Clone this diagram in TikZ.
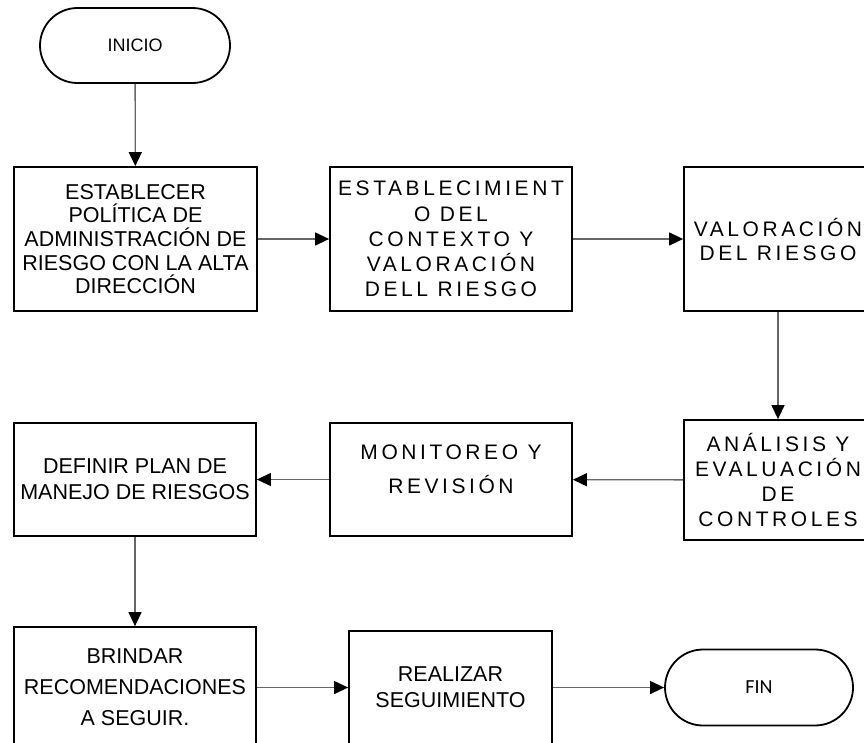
\documentclass[tikz,border=0pt]{standalone}
\usepackage{fontspec}
\setmainfont{Liberation Sans}
\newfontfamily\trk{Liberation Sans}[LetterSpace=17]
\newfontfamily\calfont{Carlito}
\usetikzlibrary{arrows.meta,shapes.misc}
\begin{document}
\begin{tikzpicture}[x=1pt,y=-1pt,
  box/.style={draw=black, line width=1.8pt, rectangle, align=center, inner sep=0pt, text=black},
  term/.style={draw=black, line width=1.8pt, rounded rectangle, inner sep=0pt, text=black},
  conn/.style={draw=black!60, line width=1.3pt, -{Triangle[length=14pt,width=13pt,color=black]}},
  plainA/.style={font=\fontsize{21.5}{23.7}\selectfont},
  plainB/.style={font=\fontsize{21.5}{26}\selectfont},
  plainC/.style={font=\fontsize{21.5}{31}\selectfont},
  trkA/.style={font=\trk\fontsize{21}{25.2}\selectfont},
  trkB/.style={font=\trk\fontsize{21}{24}\selectfont},
  trkC/.style={font=\trk\fontsize{21}{34}\selectfont}
]
\clip (0,0) rectangle (864,742);
\fill[white] (0,0) rectangle (864,742);

\node[term, minimum width=190pt, minimum height=75pt, font=\fontsize{18}{20}\selectfont] (ini) at (135,45.5) {INICIO};

\node[box, plainA, minimum width=243pt, minimum height=144pt] (b1) at (135.5,239)
  {ESTABLECER\\POLÍTICA DE\\ADMINISTRACIÓN DE\\RIESGO CON LA ALTA\\DIRECCIÓN};
\node[box, trkA, minimum width=242pt, minimum height=144pt] (b2) at (451,239)
  {ESTABLECIMIENT\\O DEL\\CONTEXTO Y\\VALORACIÓN\\DELL RIESGO};
\node[box, trkB, minimum width=188pt, minimum height=144pt] (b3) at (778,239)
  {VALORACIÓN\\DEL RIESGO};
\node[box, trkA, minimum width=188pt, minimum height=120pt] (b4) at (778,480)
  {ANÁLISIS Y\\EVALUACIÓN\\DE\\CONTROLES};
\node[box, minimum width=242pt, minimum height=113pt,
  label={[name=b5t, trkC, align=center, yshift=10pt]center:MONITOREO Y\\REVISIÓN}] (b5) at (451,479.5) {};
\node[box, plainB, minimum width=242pt, minimum height=113pt] (b6) at (135,479.5)
  {DEFINIR PLAN DE\\MANEJO DE RIESGOS};
\node[box, plainC, minimum width=242pt, minimum height=121pt] (b7) at (135,687.5)
  {BRINDAR\\RECOMENDACIONES\\A SEGUIR.};
\node[box, plainB, minimum width=203pt, minimum height=113pt] (b8) at (450.5,687.5)
  {REALIZAR\\SEGUIMIENTO};
\node[term, minimum width=188pt, minimum height=76pt, font=\calfont\fontsize{20}{22}\selectfont] (fin) at (759,687.5) {FIN};

\draw[conn] (ini) -- (b1);
\draw[conn] (b1) -- (b2);
\draw[conn] (b2) -- (b3);
\draw[conn] (b3) -- (b4);
\draw[conn] (b4) -- (b5);
\draw[conn] (b5) -- (b6);
\draw[conn] (b6) -- (b7);
\draw[conn] (b7) -- (b8);
\draw[conn] (b8) -- (fin);
\end{tikzpicture}
\end{document}
